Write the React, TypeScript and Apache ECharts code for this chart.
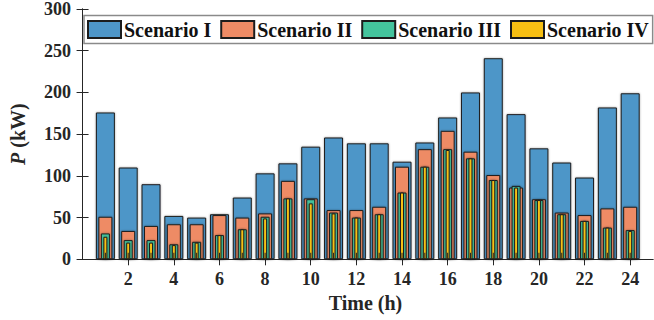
import React, { useEffect, useRef } from "react";
import * as echarts from "echarts";

const hours = [1, 2, 3, 4, 5, 6, 7, 8, 9, 10, 11, 12, 13, 14, 15, 16, 17, 18, 19, 20, 21, 22, 23, 24];
const scenarioI = [176, 110, 90, 52, 50, 54, 74, 103, 115, 135, 146, 139, 139, 117, 140, 170, 200, 241, 174, 133, 116, 98, 182, 199];
const scenarioII = [51, 34, 40, 42, 42, 53, 50, 55, 94, 73, 59, 59, 63, 111, 132, 154, 129, 101, 86, 72, 56, 53, 61, 63];
const scenarioIII = [31, 23, 23, 18, 21, 29, 36, 51, 73, 72, 56, 50, 54, 80, 111, 132, 121, 95, 88, 71, 54, 46, 38, 35];
const scenarioIV = [27, 20, 20, 17, 20, 29, 36, 49, 73, 67, 55, 50, 54, 80, 111, 131, 121, 95, 86, 71, 54, 46, 38, 34];
const baseMarks = [8, 8, 8, 8, 8, 8, 8, 8, 8, 8, 8, 8, 8, 8, 8, 8, 8, 8, 8, 8, 8, 8, 8, 8];
const xTickValues = [2, 4, 6, 8, 10, 12, 14, 16, 18, 20, 22, 24];
const seriesNames = ["Scenario I", "Scenario II", "Scenario III", "Scenario IV"];

const FONT = '"Times New Roman", "Liberation Serif", serif';
const colors = ["#4E96C8", "#EE8B65", "#44C49D", "#F7BF13"];
const barWidths = [19, 14, 9, 4];

export default function App() {
  const ref = useRef<HTMLDivElement>(null);
  useEffect(() => {
    if (!ref.current) return;
    const chart = echarts.init(ref.current, undefined, { renderer: "svg" });
    const xBase = { type: "value", min: -0.2, max: 25, gridIndex: 0 };
    const hiddenX = { ...xBase, show: false };
    const pair = (arr: number[]) => hours.map((h, i) => [h, arr[i]]);
    const series: any[] = [scenarioI, scenarioII, scenarioIII, scenarioIV].map((arr, k) => ({
      name: seriesNames[k],
      type: "bar",
      xAxisIndex: k === 0 ? 0 : k + 1,
      yAxisIndex: 0,
      barWidth: barWidths[k],
      data: pair(arr),
      itemStyle: {
        color: colors[k],
        borderColor: "#1c1c1c",
        borderWidth: 1,
        shadowBlur: 2,
        shadowColor: "rgba(0,0,0,0.35)",
      },
    }));
    series.push({
      type: "bar",
      xAxisIndex: 5,
      yAxisIndex: 0,
      barWidth: 1,
      data: pair(baseMarks),
      itemStyle: { color: "#222" },
      legendHoverLink: false,
    });
    chart.setOption({
      animation: false,
      grid: { left: 69.3, right: 1, top: 7.3, bottom: 60.7, containLabel: false },
      legend: {
        data: seriesNames,
        left: 84,
        top: 15.5,
        orient: "horizontal",
        itemWidth: 33,
        itemHeight: 17,
        itemGap: 9,
        padding: [4, 4, 4, 3],
        borderColor: "#8a8a8a",
        borderWidth: 1.5,
        backgroundColor: "#fff",
        icon: "rect",
        textStyle: { fontFamily: FONT, fontWeight: "bold", fontSize: 20, color: "#111", padding: [0, 0, 0, -2] },
      },
      xAxis: [
        {
          ...xBase,
          position: "bottom",
          name: "Time (h)",
          nameLocation: "middle",
          nameGap: 31,
          nameTextStyle: { fontFamily: FONT, fontWeight: "bold", fontSize: 20, color: "#262626" },
          axisLine: { show: true, lineStyle: { color: "#262626", width: 1 } },
          axisTick: { show: true, inside: true, length: 6, customValues: xTickValues, lineStyle: { color: "#262626" } },
          axisLabel: { customValues: xTickValues, fontFamily: FONT, fontWeight: "bold", fontSize: 18, color: "#262626", margin: 11 },
          splitLine: { show: false },
        },
        {
          ...xBase,
          position: "top",
          axisLine: { show: true, lineStyle: { color: "#262626", width: 1 } },
          axisTick: { show: true, inside: true, length: 6, customValues: xTickValues, lineStyle: { color: "#262626" } },
          axisLabel: { show: false, customValues: xTickValues },
          splitLine: { show: false },
        },
        hiddenX,
        hiddenX,
        hiddenX,
        hiddenX,
      ],
      yAxis: [
        {
          type: "value",
          min: 0,
          max: 300,
          interval: 50,
          position: "left",
          name: "{i|P} (kW)",
          nameLocation: "middle",
          nameGap: 50,
          nameTextStyle: {
            fontFamily: FONT,
            fontWeight: "bold",
            fontSize: 20,
            color: "#262626",
            rich: {
              i: { fontFamily: FONT, fontWeight: "bold", fontStyle: "italic", fontSize: 20, color: "#262626" },
            },
          },
          axisLine: { show: true, lineStyle: { color: "#262626", width: 1 } },
          axisTick: { show: true, inside: true, length: 6, lineStyle: { color: "#262626" } },
          axisLabel: { fontFamily: FONT, fontWeight: "bold", fontSize: 18, color: "#262626", margin: 7 },
          splitLine: { show: false },
        },
        {
          type: "value",
          min: 0,
          max: 300,
          interval: 50,
          position: "right",
          axisLine: { show: true, lineStyle: { color: "#262626", width: 1 } },
          axisTick: { show: true, inside: true, length: 6, lineStyle: { color: "#262626" } },
          axisLabel: { show: false },
          splitLine: { show: false },
        },
      ],
      series,
    });
    return () => chart.dispose();
  }, []);
  return <div ref={ref} style={{ position: "fixed", left: 0, top: 0, width: 654, height: 320, background: "#fff" }} />;
}
